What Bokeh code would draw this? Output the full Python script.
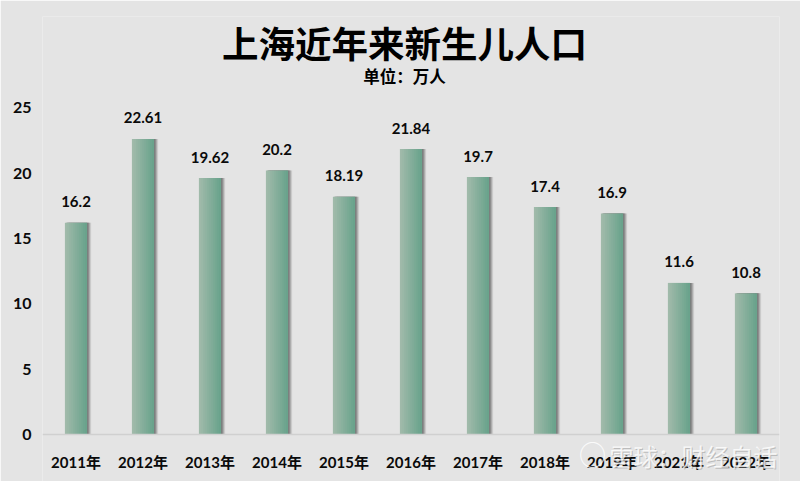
from bokeh.plotting import figure
from bokeh.models import ColumnDataSource, FactorRange, Range1d, FixedTicker, Label
from bokeh.transform import dodge
from bokeh.core.properties import value
from bokeh.embed import file_html
from bokeh.resources import INLINE

categories = ["2011年", "2012年", "2013年", "2014年", "2015年", "2016年", "2017年", "2018年", "2019年", "2021年", "2022年"]
births = [16.2, 22.61, 19.62, 20.2, 18.19, 21.84, 19.7, 17.4, 16.9, 11.6, 10.8]
value_labels = ["16.2", "22.61", "19.62", "20.2", "18.19", "21.84", "19.7", "17.4", "16.9", "11.6", "10.8"]
y_ticks = [0, 5, 10, 15, 20, 25]
title_text = "上海近年来新生儿人口"
subtitle_text = "单位：万人"
watermark_text = "雪球：财经自话"

BG = "#e4e4e4"
FONT = "Lato, 'Noto Sans CJK SC'"
CJK = "'Noto Sans CJK SC'"

# frame edges in page pixels; the frame runs to the page bottom so the watermark is not clipped
FL, FR, FT, FB = 42, 779, 16, 481
BASE = 434        # page row of value 0
SCALE = 13.07     # pixels per unit
W, H = 800, 481
p = figure(width=W, height=H, output_backend="svg", toolbar_location=None,
           x_range=FactorRange(factors=categories, range_padding=0, factor_padding=0),
           y_range=Range1d(-(FB - BASE) / SCALE, (BASE - FT) / SCALE),
           min_border_left=FL, min_border_right=W - FR, min_border_top=FT, min_border_bottom=0,
           background_fill_color=BG, border_fill_color=BG)
p.outline_line_color = None
p.grid.visible = False

src = ColumnDataSource(dict(cat=categories, v=births, lab=value_labels))

# soft shadow to the right of each bar
bar_w = 0.328
for off, col, a in [(0.062, "#b5b5b5", 0.4), (0.048, "#9a9a9a", 0.5), (0.034, "#858585", 0.65), (0.02, "#777777", 0.8)]:
    p.vbar(x=dodge("cat", off, range=p.x_range), top="v", width=bar_w, source=src,
           fill_color=col, fill_alpha=a, line_color=None)

# horizontal gradient built from thin slices of each bar
n = 11
left = (160, 186, 170)
right = (106, 163, 140)
sw = bar_w / n
for i in range(n):
    t = i / (n - 1)
    c = tuple(round(l + (r - l) * t) for l, r in zip(left, right))
    p.vbar(x=dodge("cat", -bar_w / 2 + sw * (i + 0.5), range=p.x_range), top="v",
           width=sw * 1.12, source=src, fill_color="#%02x%02x%02x" % c, line_color=None)

p.text(x="cat", y="v", text="lab", source=src, y_offset=-21, text_align="center",
       text_baseline="middle", text_color="#0a0a0a", text_font=value(FONT),
       text_font_size="15px", text_font_style="bold")

p.xaxis.fixed_location = 0
p.xaxis.axis_line_color = "#d0d0d0"
p.xaxis.axis_line_width = 1.5
p.xaxis.major_tick_line_color = None
p.xaxis.minor_tick_line_color = None
p.xaxis.major_label_standoff = 12
p.xaxis.major_label_text_font = FONT
p.xaxis.major_label_text_font_size = "15px"
p.xaxis.major_label_text_font_style = "bold"
p.xaxis.major_label_text_color = "#0a0a0a"

p.yaxis.ticker = FixedTicker(ticks=y_ticks)
p.yaxis.axis_line_color = None
p.yaxis.major_tick_line_color = None
p.yaxis.minor_tick_line_color = None
p.yaxis.major_label_standoff = 5
p.yaxis.major_label_text_font = FONT
p.yaxis.major_label_text_font_size = "16px"
p.yaxis.major_label_text_font_style = "bold"
p.yaxis.major_label_text_color = "#0a0a0a"

def screen_label(text, px, py, size, color="#000000", style="bold", alpha=1.0):
    # px, py are page pixels; screen units count from the frame's bottom-left corner
    p.add_layout(Label(x=px - FL, y=FB - py, x_units="screen", y_units="screen", text=text, text_align="center",
                       text_baseline="middle", text_font=CJK, text_font_size=size,
                       text_font_style=style, text_color=color, text_alpha=alpha))

screen_label(title_text, 404, 42, "36.5px")
screen_label(subtitle_text, 404, 75, "16.5px")

# watermark
screen_label("◯", 592, 453, "26px", color="#ffffff", alpha=0.85)
screen_label(watermark_text, 694, 456, "24px", color="#8a8a8a", style="normal", alpha=0.45)
screen_label(watermark_text, 693, 455, "24px", color="#ffffff", style="normal", alpha=0.8)

open("out.html", "w").write(file_html(p, INLINE))
